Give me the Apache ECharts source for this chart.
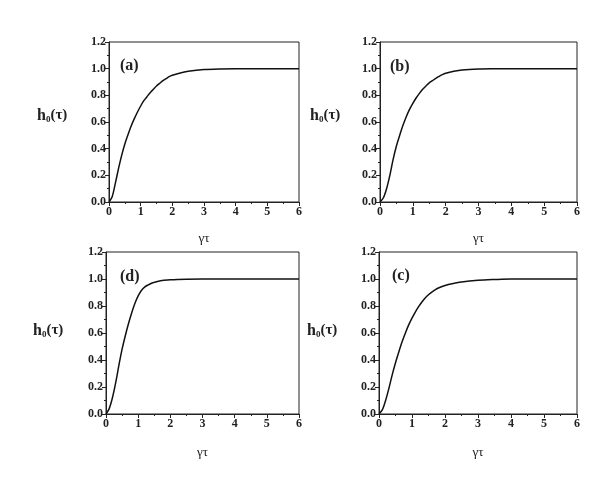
<!DOCTYPE html>
<html>
<head>
<meta charset="utf-8">
<script src="https://cdn.jsdelivr.net/npm/echarts@6/dist/echarts.min.js"></script>
<style>
  html, body { margin: 0; padding: 0; background: #fff; }
  #main { width: 615px; height: 490px; }
</style>
</head>
<body>
<div id="main"></div>
<script>
// values
var xa = [0, 0.1, 0.2, 0.3, 0.4, 0.5, 0.6, 0.7, 0.8, 0.9, 1.0, 1.1, 1.2, 1.3, 1.4, 1.5, 1.6, 1.7, 1.8, 1.9, 2.0, 2.25, 2.5, 3.0, 3.5, 4, 5, 6];
var ya = [0, 0.04, 0.14, 0.25, 0.35, 0.435, 0.505, 0.57, 0.625, 0.675, 0.72, 0.76, 0.79, 0.82, 0.845, 0.87, 0.89, 0.91, 0.925, 0.94, 0.95, 0.968, 0.98, 0.993, 0.998, 1, 1, 1];

var xb = [0, 0.1, 0.2, 0.3, 0.4, 0.5, 0.6, 0.7, 0.8, 0.9, 1.0, 1.1, 1.2, 1.3, 1.4, 1.5, 1.6, 1.7, 1.8, 1.9, 2.0, 2.25, 2.5, 3.0, 3.5, 4, 5, 6];
var yb = [0, 0.03, 0.1, 0.2, 0.32, 0.42, 0.5, 0.575, 0.64, 0.695, 0.74, 0.78, 0.815, 0.845, 0.87, 0.893, 0.91, 0.928, 0.942, 0.955, 0.965, 0.98, 0.99, 0.997, 0.999, 1, 1, 1];

var xd = [0, 0.1, 0.2, 0.3, 0.4, 0.5, 0.6, 0.7, 0.8, 0.9, 1.0, 1.1, 1.2, 1.3, 1.4, 1.5, 1.6, 1.8, 2.0, 2.5, 3, 4, 5, 6];
var yd = [0, 0.04, 0.12, 0.23, 0.36, 0.48, 0.58, 0.67, 0.75, 0.82, 0.875, 0.915, 0.94, 0.955, 0.967, 0.975, 0.982, 0.99, 0.995, 0.999, 1, 1, 1, 1];

var xc = [0, 0.1, 0.2, 0.3, 0.4, 0.5, 0.6, 0.7, 0.8, 0.9, 1.0, 1.1, 1.2, 1.3, 1.4, 1.5, 1.6, 1.7, 1.8, 2.0, 2.25, 2.5, 3.0, 3.5, 4, 5, 6];
var yc = [0, 0.03, 0.1, 0.19, 0.29, 0.38, 0.46, 0.535, 0.6, 0.66, 0.71, 0.755, 0.795, 0.83, 0.86, 0.883, 0.903, 0.92, 0.933, 0.952, 0.967, 0.978, 0.99, 0.996, 1, 1, 1];

var panels = [
  { tag: '(a)', xs: xa, ys: ya, grid: { left: 109, top: 42, width: 190, height: 160 }, tagPos: [115, 53], namePos: [32, 102], gap: 30 },
  { tag: '(b)', xs: xb, ys: yb, grid: { left: 380, top: 42, width: 197, height: 160 }, tagPos: [385, 54], namePos: [305, 102], gap: 30 },
  { tag: '(d)', xs: xd, ys: yd, grid: { left: 106, top: 252, width: 193, height: 162 }, tagPos: [115, 264], namePos: [28, 317], gap: 32 },
  { tag: '(c)', xs: xc, ys: yc, grid: { left: 379, top: 252, width: 198, height: 162 }, tagPos: [387, 263], namePos: [302, 317], gap: 32 }
];

var font = 'Liberation Serif';
var grids = [], xAxes = [], yAxes = [], series = [], titles = [];

panels.forEach(function (p, i) {
  grids.push(Object.assign({ show: true, borderColor: '#222', borderWidth: 1 }, p.grid));
  xAxes.push({
    type: 'value', gridIndex: i, min: 0, max: 6, interval: 1,
    name: 'γτ', nameLocation: 'middle', nameGap: p.gap,
    nameTextStyle: { fontFamily: font, fontSize: 13, color: '#222' },
    axisLine: { lineStyle: { color: '#222', width: 1 } },
    axisTick: { length: 4, lineStyle: { color: '#222' } },
    minorTick: { show: true, splitNumber: 2, length: 2, lineStyle: { color: '#222' } },
    splitLine: { show: false },
    axisLabel: { fontFamily: font, fontWeight: 'bold', fontSize: 12, color: '#222', margin: 4 }
  });
  yAxes.push({
    type: 'value', gridIndex: i, min: 0, max: 1.2, interval: 0.2,
    axisLine: { show: true, lineStyle: { color: '#222', width: 1 } },
    axisTick: { show: true, length: 4, lineStyle: { color: '#222' } },
    minorTick: { show: true, splitNumber: 2, length: 2, lineStyle: { color: '#222' } },
    splitLine: { show: false },
    axisLabel: { fontFamily: font, fontWeight: 'bold', fontSize: 12, color: '#222', margin: 3,
      formatter: function (v) { return v.toFixed(1); } }
  });
  series.push({
    type: 'line', xAxisIndex: i, yAxisIndex: i, smooth: 0.3, showSymbol: false,
    lineStyle: { color: '#111', width: 1.5 },
    data: p.xs.map(function (x, k) { return [x, p.ys[k]]; })
  });
  titles.push({
    text: p.tag, left: p.tagPos[0], top: p.tagPos[1],
    textStyle: { fontFamily: font, fontWeight: 'bold', fontSize: 16, color: '#222' }
  });
  titles.push({
    text: '{h|h}{s|0}{p|(τ)}', left: p.namePos[0], top: p.namePos[1],
    textStyle: {
      rich: {
        h: { fontFamily: font, fontWeight: 'bold', fontSize: 16, color: '#222' },
        s: { fontFamily: font, fontSize: 9, color: '#222', verticalAlign: 'bottom', padding: [8, 0, 0, 0] },
        p: { fontFamily: font, fontSize: 15, color: '#222' }
      }
    }
  });
});

var chart = echarts.init(document.getElementById('main'), null, { renderer: 'canvas' });
chart.setOption({
  animation: false,
  backgroundColor: '#fff',
  title: titles,
  grid: grids,
  xAxis: xAxes,
  yAxis: yAxes,
  series: series
});
</script>
</body>
</html>
